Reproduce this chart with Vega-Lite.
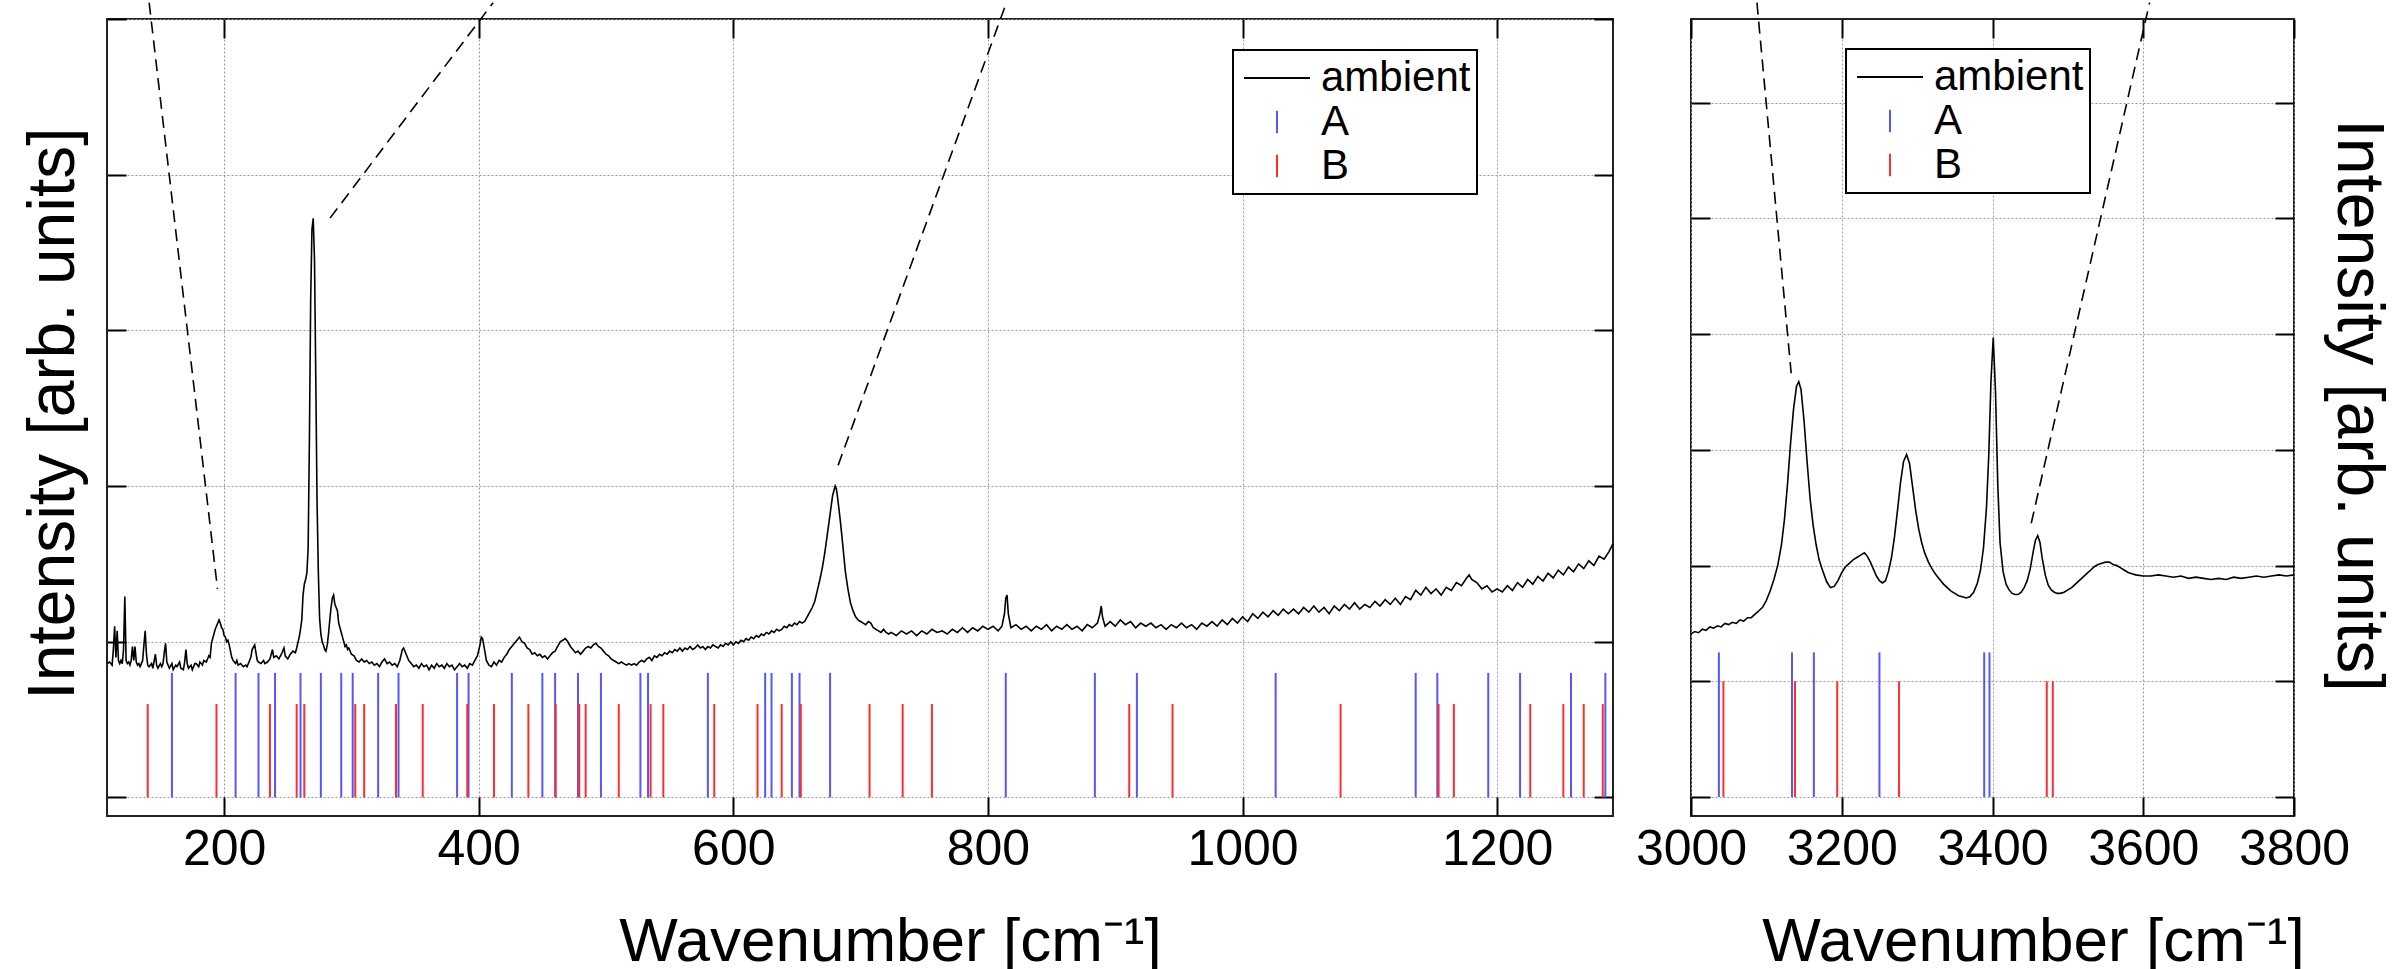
{
  "$schema": "https://vega.github.io/schema/vega-lite/v6.json",
  "padding": {"left": 18, "top": 0, "right": 5, "bottom": 0},
  "background": "white",
  "config": {
    "view": {"stroke": "#222", "strokeWidth": 2},
    "axis": {
      "domain": false,
      "tickSize": -19,
      "tickWidth": 2,
      "tickColor": "black",
      "gridColor": "#9a9a9a",
      "gridDash": [2, 2],
      "gridWidth": 1,
      "labelFont": "Liberation Sans",
      "labelFontSize": 50,
      "labelColor": "black",
      "titleFont": "Liberation Sans",
      "titleFontWeight": "normal",
      "titleColor": "black"
    },
    "legend": {
      "labelFont": "Liberation Sans",
      "labelFontSize": 42,
      "labelColor": "black",
      "strokeWidth": 2
    }
  },
  "datasets": {
    "specL": [
      {"w":108,"v":0.86},{"w":110,"v":0.87},{"w":112,"v":0.85},{"w":113,"v":0.95},{"w":114,"v":1.10},{"w":115,"v":0.90},{"w":116,"v":1.07},{"w":117,"v":0.88},{"w":118,"v":0.86},{"w":119,"v":0.88},{"w":120,"v":0.86},{"w":121,"v":0.95},{"w":122,"v":1.29},{"w":123,"v":0.88},{"w":124,"v":0.86},{"w":125,"v":0.87},{"w":126,"v":0.85},{"w":127,"v":0.88},{"w":128,"v":0.97},{"w":129,"v":0.88},{"w":130,"v":0.97},{"w":131,"v":0.87},{"w":132,"v":0.85},{"w":133,"v":0.86},{"w":134,"v":0.84},{"w":135,"v":0.86},{"w":136,"v":0.88},{"w":137,"v":0.98},{"w":138,"v":1.07},{"w":139,"v":0.92},{"w":140,"v":0.85},{"w":141,"v":0.84},{"w":143,"v":0.86},{"w":144,"v":0.83},{"w":146,"v":0.92},{"w":147,"v":0.85},{"w":148,"v":0.83},{"w":150,"v":0.86},{"w":151,"v":0.84},{"w":152,"v":0.86},{"w":153,"v":0.93},{"w":154,"v":0.99},{"w":155,"v":0.87},{"w":156,"v":0.85},{"w":157,"v":0.83},{"w":159,"v":0.86},{"w":160,"v":0.82},{"w":162,"v":0.85},{"w":163,"v":0.84},{"w":165,"v":0.87},{"w":166,"v":0.83},{"w":168,"v":0.82},{"w":169,"v":0.87},{"w":170,"v":0.95},{"w":171,"v":0.86},{"w":172,"v":0.83},{"w":174,"v":0.85},{"w":175,"v":0.82},{"w":177,"v":0.86},{"w":178,"v":0.86},{"w":180,"v":0.84},{"w":181,"v":0.87},{"w":183,"v":0.85},{"w":184,"v":0.88},{"w":186,"v":0.87},{"w":188,"v":0.91},{"w":189,"v":0.90},{"w":190,"v":0.99},{"w":191,"v":1.02},{"w":193,"v":1.08},{"w":194,"v":1.10},{"w":196,"v":1.14},{"w":197,"v":1.12},{"w":198,"v":1.09},{"w":199,"v":1.08},{"w":200,"v":1.04},{"w":201,"v":1.03},{"w":202,"v":1.00},{"w":203,"v":1.01},{"w":204,"v":0.98},{"w":205,"v":0.94},{"w":206,"v":0.90},{"w":207,"v":0.88},{"w":209,"v":0.86},{"w":210,"v":0.88},{"w":211,"v":0.85},{"w":213,"v":0.86},{"w":215,"v":0.84},{"w":217,"v":0.85},{"w":218,"v":0.84},{"w":220,"v":0.88},{"w":221,"v":0.90},{"w":222,"v":0.95},{"w":224,"v":0.98},{"w":225,"v":0.93},{"w":226,"v":0.88},{"w":227,"v":0.87},{"w":229,"v":0.86},{"w":231,"v":0.88},{"w":232,"v":0.86},{"w":234,"v":0.87},{"w":236,"v":0.89},{"w":238,"v":0.95},{"w":239,"v":0.90},{"w":241,"v":0.91},{"w":243,"v":0.89},{"w":245,"v":0.92},{"w":247,"v":0.96},{"w":248,"v":0.91},{"w":250,"v":0.89},{"w":252,"v":0.92},{"w":254,"v":0.94},{"w":256,"v":0.93},{"w":257,"v":0.96},{"w":259,"v":1.03},{"w":260,"v":1.08},{"w":261,"v":1.14},{"w":262,"v":1.30},{"w":263,"v":1.37},{"w":264,"v":1.40},{"w":265,"v":1.44},{"w":266,"v":1.60},{"w":267,"v":2.30},{"w":268,"v":3.20},{"w":269,"v":3.65},{"w":270,"v":3.72},{"w":271,"v":3.45},{"w":272,"v":2.70},{"w":273,"v":1.90},{"w":274,"v":1.45},{"w":275,"v":1.15},{"w":276,"v":1.05},{"w":277,"v":1.00},{"w":278,"v":0.98},{"w":279,"v":0.95},{"w":280,"v":0.94},{"w":281,"v":0.98},{"w":282,"v":1.05},{"w":283,"v":1.14},{"w":284,"v":1.22},{"w":285,"v":1.28},{"w":286,"v":1.30},{"w":287,"v":1.24},{"w":288,"v":1.22},{"w":289,"v":1.20},{"w":290,"v":1.12},{"w":291,"v":1.09},{"w":292,"v":1.06},{"w":293,"v":1.03},{"w":294,"v":1.00},{"w":295,"v":0.97},{"w":296,"v":0.98},{"w":297,"v":0.95},{"w":298,"v":0.96},{"w":300,"v":0.92},{"w":302,"v":0.91},{"w":304,"v":0.88},{"w":306,"v":0.87},{"w":308,"v":0.89},{"w":310,"v":0.87},{"w":312,"v":0.88},{"w":314,"v":0.86},{"w":316,"v":0.87},{"w":318,"v":0.85},{"w":320,"v":0.86},{"w":322,"v":0.84},{"w":324,"v":0.87},{"w":326,"v":0.89},{"w":328,"v":0.86},{"w":330,"v":0.87},{"w":332,"v":0.85},{"w":334,"v":0.86},{"w":336,"v":0.84},{"w":338,"v":0.88},{"w":340,"v":0.95},{"w":341,"v":0.96},{"w":343,"v":0.92},{"w":345,"v":0.88},{"w":347,"v":0.86},{"w":349,"v":0.84},{"w":351,"v":0.85},{"w":353,"v":0.83},{"w":355,"v":0.86},{"w":357,"v":0.84},{"w":359,"v":0.85},{"w":361,"v":0.82},{"w":363,"v":0.85},{"w":365,"v":0.83},{"w":367,"v":0.86},{"w":369,"v":0.84},{"w":371,"v":0.85},{"w":373,"v":0.83},{"w":375,"v":0.86},{"w":377,"v":0.84},{"w":379,"v":0.85},{"w":381,"v":0.82},{"w":383,"v":0.84},{"w":385,"v":0.86},{"w":387,"v":0.84},{"w":389,"v":0.85},{"w":391,"v":0.83},{"w":393,"v":0.86},{"w":395,"v":0.85},{"w":397,"v":0.88},{"w":399,"v":0.91},{"w":401,"v":0.98},{"w":402,"v":1.03},{"w":403,"v":1.02},{"w":405,"v":0.93},{"w":406,"v":0.88},{"w":408,"v":0.85},{"w":410,"v":0.84},{"w":412,"v":0.87},{"w":414,"v":0.85},{"w":416,"v":0.88},{"w":418,"v":0.87},{"w":420,"v":0.90},{"w":422,"v":0.92},{"w":424,"v":0.95},{"w":426,"v":0.97},{"w":428,"v":0.99},{"w":430,"v":1.01},{"w":432,"v":1.03},{"w":434,"v":1.00},{"w":436,"v":0.99},{"w":438,"v":0.96},{"w":440,"v":0.95},{"w":442,"v":0.92},{"w":444,"v":0.93},{"w":446,"v":0.91},{"w":448,"v":0.92},{"w":450,"v":0.90},{"w":452,"v":0.91},{"w":454,"v":0.89},{"w":456,"v":0.91},{"w":458,"v":0.93},{"w":460,"v":0.94},{"w":462,"v":0.97},{"w":464,"v":1.00},{"w":466,"v":1.01},{"w":468,"v":1.02},{"w":470,"v":1.00},{"w":472,"v":0.97},{"w":474,"v":0.95},{"w":476,"v":0.93},{"w":478,"v":0.94},{"w":480,"v":0.92},{"w":482,"v":0.94},{"w":484,"v":0.96},{"w":486,"v":0.97},{"w":488,"v":0.96},{"w":490,"v":0.98},{"w":492,"v":0.99},{"w":494,"v":0.97},{"w":496,"v":0.96},{"w":498,"v":0.94},{"w":500,"v":0.92},{"w":502,"v":0.91},{"w":504,"v":0.89},{"w":506,"v":0.88},{"w":508,"v":0.87},{"w":510,"v":0.86},{"w":512,"v":0.87},{"w":514,"v":0.86},{"w":516,"v":0.85},{"w":518,"v":0.86},{"w":520,"v":0.85},{"w":522,"v":0.86},{"w":524,"v":0.85},{"w":526,"v":0.87},{"w":528,"v":0.88},{"w":530,"v":0.87},{"w":532,"v":0.89},{"w":534,"v":0.90},{"w":536,"v":0.88},{"w":538,"v":0.91},{"w":540,"v":0.90},{"w":542,"v":0.92},{"w":544,"v":0.91},{"w":546,"v":0.93},{"w":548,"v":0.92},{"w":550,"v":0.94},{"w":552,"v":0.93},{"w":554,"v":0.95},{"w":556,"v":0.94},{"w":558,"v":0.96},{"w":560,"v":0.94},{"w":562,"v":0.96},{"w":564,"v":0.95},{"w":566,"v":0.97},{"w":568,"v":0.95},{"w":570,"v":0.96},{"w":572,"v":0.98},{"w":574,"v":0.96},{"w":576,"v":0.97},{"w":578,"v":0.95},{"w":580,"v":0.97},{"w":582,"v":0.96},{"w":584,"v":0.98},{"w":586,"v":0.97},{"w":588,"v":0.96},{"w":590,"v":0.98},{"w":592,"v":0.97},{"w":594,"v":0.99},{"w":596,"v":0.98},{"w":598,"v":1.00},{"w":600,"v":0.98},{"w":602,"v":1.00},{"w":604,"v":0.99},{"w":606,"v":1.01},{"w":608,"v":1.00},{"w":610,"v":1.02},{"w":612,"v":1.01},{"w":614,"v":1.03},{"w":616,"v":1.02},{"w":618,"v":1.04},{"w":620,"v":1.03},{"w":622,"v":1.05},{"w":624,"v":1.04},{"w":626,"v":1.06},{"w":628,"v":1.05},{"w":630,"v":1.07},{"w":632,"v":1.06},{"w":634,"v":1.08},{"w":636,"v":1.07},{"w":638,"v":1.08},{"w":640,"v":1.10},{"w":642,"v":1.09},{"w":644,"v":1.11},{"w":646,"v":1.10},{"w":648,"v":1.12},{"w":650,"v":1.11},{"w":652,"v":1.13},{"w":654,"v":1.12},{"w":656,"v":1.13},{"w":658,"v":1.16},{"w":660,"v":1.19},{"w":662,"v":1.22},{"w":664,"v":1.26},{"w":666,"v":1.33},{"w":668,"v":1.40},{"w":670,"v":1.48},{"w":672,"v":1.58},{"w":674,"v":1.70},{"w":676,"v":1.82},{"w":678,"v":1.94},{"w":680,"v":2.00},{"w":681,"v":1.98},{"w":682,"v":1.92},{"w":684,"v":1.78},{"w":686,"v":1.62},{"w":688,"v":1.45},{"w":690,"v":1.34},{"w":692,"v":1.25},{"w":694,"v":1.20},{"w":696,"v":1.16},{"w":698,"v":1.14},{"w":700,"v":1.13},{"w":702,"v":1.12},{"w":704,"v":1.11},{"w":706,"v":1.13},{"w":708,"v":1.12},{"w":710,"v":1.09},{"w":712,"v":1.08},{"w":714,"v":1.07},{"w":716,"v":1.06},{"w":718,"v":1.08},{"w":720,"v":1.06},{"w":722,"v":1.05},{"w":724,"v":1.06},{"w":728,"v":1.04},{"w":732,"v":1.07},{"w":736,"v":1.05},{"w":740,"v":1.07},{"w":744,"v":1.04},{"w":748,"v":1.07},{"w":752,"v":1.05},{"w":756,"v":1.08},{"w":760,"v":1.06},{"w":764,"v":1.07},{"w":768,"v":1.05},{"w":772,"v":1.08},{"w":776,"v":1.06},{"w":780,"v":1.09},{"w":784,"v":1.06},{"w":788,"v":1.09},{"w":792,"v":1.07},{"w":796,"v":1.10},{"w":800,"v":1.08},{"w":804,"v":1.10},{"w":808,"v":1.07},{"w":811,"v":1.10},{"w":813,"v":1.18},{"w":814,"v":1.28},{"w":815,"v":1.30},{"w":816,"v":1.18},{"w":818,"v":1.09},{"w":822,"v":1.11},{"w":826,"v":1.08},{"w":830,"v":1.10},{"w":834,"v":1.07},{"w":838,"v":1.10},{"w":842,"v":1.08},{"w":846,"v":1.11},{"w":850,"v":1.07},{"w":854,"v":1.10},{"w":858,"v":1.08},{"w":862,"v":1.11},{"w":866,"v":1.08},{"w":870,"v":1.10},{"w":874,"v":1.07},{"w":878,"v":1.11},{"w":882,"v":1.09},{"w":886,"v":1.12},{"w":888,"v":1.18},{"w":889,"v":1.23},{"w":890,"v":1.16},{"w":892,"v":1.10},{"w":896,"v":1.13},{"w":900,"v":1.10},{"w":904,"v":1.14},{"w":908,"v":1.11},{"w":912,"v":1.13},{"w":916,"v":1.09},{"w":920,"v":1.12},{"w":924,"v":1.10},{"w":928,"v":1.12},{"w":932,"v":1.09},{"w":936,"v":1.11},{"w":940,"v":1.08},{"w":944,"v":1.11},{"w":948,"v":1.09},{"w":952,"v":1.12},{"w":956,"v":1.09},{"w":960,"v":1.11},{"w":964,"v":1.08},{"w":968,"v":1.12},{"w":972,"v":1.10},{"w":976,"v":1.13},{"w":980,"v":1.10},{"w":984,"v":1.14},{"w":988,"v":1.11},{"w":992,"v":1.15},{"w":996,"v":1.12},{"w":1000,"v":1.16},{"w":1004,"v":1.13},{"w":1008,"v":1.18},{"w":1012,"v":1.15},{"w":1016,"v":1.19},{"w":1020,"v":1.16},{"w":1024,"v":1.20},{"w":1028,"v":1.17},{"w":1032,"v":1.21},{"w":1036,"v":1.18},{"w":1040,"v":1.21},{"w":1044,"v":1.18},{"w":1048,"v":1.22},{"w":1052,"v":1.19},{"w":1056,"v":1.23},{"w":1060,"v":1.19},{"w":1064,"v":1.22},{"w":1068,"v":1.18},{"w":1072,"v":1.23},{"w":1076,"v":1.20},{"w":1080,"v":1.24},{"w":1084,"v":1.21},{"w":1088,"v":1.25},{"w":1092,"v":1.21},{"w":1096,"v":1.24},{"w":1100,"v":1.22},{"w":1104,"v":1.26},{"w":1108,"v":1.23},{"w":1112,"v":1.27},{"w":1116,"v":1.24},{"w":1120,"v":1.28},{"w":1124,"v":1.24},{"w":1128,"v":1.29},{"w":1132,"v":1.27},{"w":1136,"v":1.33},{"w":1140,"v":1.30},{"w":1144,"v":1.35},{"w":1148,"v":1.31},{"w":1152,"v":1.34},{"w":1156,"v":1.30},{"w":1160,"v":1.35},{"w":1164,"v":1.33},{"w":1168,"v":1.38},{"w":1172,"v":1.36},{"w":1176,"v":1.41},{"w":1178,"v":1.43},{"w":1180,"v":1.40},{"w":1184,"v":1.38},{"w":1188,"v":1.34},{"w":1192,"v":1.36},{"w":1196,"v":1.32},{"w":1200,"v":1.34},{"w":1204,"v":1.32},{"w":1208,"v":1.36},{"w":1212,"v":1.33},{"w":1216,"v":1.38},{"w":1220,"v":1.35},{"w":1224,"v":1.40},{"w":1228,"v":1.37},{"w":1232,"v":1.42},{"w":1236,"v":1.39},{"w":1240,"v":1.44},{"w":1244,"v":1.41},{"w":1248,"v":1.46},{"w":1252,"v":1.43},{"w":1256,"v":1.48},{"w":1260,"v":1.45},{"w":1264,"v":1.50},{"w":1268,"v":1.47},{"w":1272,"v":1.52},{"w":1276,"v":1.49},{"w":1280,"v":1.55},{"w":1284,"v":1.53},{"w":1288,"v":1.58},{"w":1291,"v":1.63}
    ],
    "sticksL": [
      {"w":159,"s":"A","h":0.8},{"w":209,"s":"A","h":0.8},{"w":227,"s":"A","h":0.8},{"w":240,"s":"A","h":0.8},{"w":260,"s":"A","h":0.8},{"w":276,"s":"A","h":0.8},{"w":292,"s":"A","h":0.8},{"w":301,"s":"A","h":0.8},{"w":321,"s":"A","h":0.8},{"w":337,"s":"A","h":0.8},{"w":383,"s":"A","h":0.8},{"w":392,"s":"A","h":0.8},{"w":426,"s":"A","h":0.8},{"w":450,"s":"A","h":0.8},{"w":460,"s":"A","h":0.8},{"w":478,"s":"A","h":0.8},{"w":496,"s":"A","h":0.8},{"w":527,"s":"A","h":0.8},{"w":533,"s":"A","h":0.8},{"w":580,"s":"A","h":0.8},{"w":625,"s":"A","h":0.8},{"w":630,"s":"A","h":0.8},{"w":646,"s":"A","h":0.8},{"w":652,"s":"A","h":0.8},{"w":676,"s":"A","h":0.8},{"w":814,"s":"A","h":0.8},{"w":884,"s":"A","h":0.8},{"w":917,"s":"A","h":0.8},{"w":1026,"s":"A","h":0.8},{"w":1136,"s":"A","h":0.8},{"w":1153,"s":"A","h":0.8},{"w":1193,"s":"A","h":0.8},{"w":1218,"s":"A","h":0.8},{"w":1258,"s":"A","h":0.8},{"w":1285,"s":"A","h":0.8},
      {"w":140,"s":"B","h":0.6},{"w":194,"s":"B","h":0.6},{"w":236,"s":"B","h":0.6},{"w":257,"s":"B","h":0.6},{"w":263,"s":"B","h":0.6},{"w":303,"s":"B","h":0.6},{"w":310,"s":"B","h":0.6},{"w":335,"s":"B","h":0.6},{"w":356,"s":"B","h":0.6},{"w":391,"s":"B","h":0.6},{"w":412,"s":"B","h":0.6},{"w":439,"s":"B","h":0.6},{"w":460.5,"s":"B","h":0.6},{"w":479,"s":"B","h":0.6},{"w":484,"s":"B","h":0.6},{"w":510,"s":"B","h":0.6},{"w":535,"s":"B","h":0.6},{"w":545,"s":"B","h":0.6},{"w":585,"s":"B","h":0.6},{"w":619,"s":"B","h":0.6},{"w":638,"s":"B","h":0.6},{"w":653,"s":"B","h":0.6},{"w":707,"s":"B","h":0.6},{"w":733,"s":"B","h":0.6},{"w":756,"s":"B","h":0.6},{"w":911,"s":"B","h":0.6},{"w":945,"s":"B","h":0.6},{"w":1077,"s":"B","h":0.6},{"w":1154,"s":"B","h":0.6},{"w":1166,"s":"B","h":0.6},{"w":1226,"s":"B","h":0.6},{"w":1252,"s":"B","h":0.6},{"w":1268,"s":"B","h":0.6},{"w":1283,"s":"B","h":0.6}
    ],
    "zoomL": [
      {"w1":141.1,"v1":5.105,"w2":194.8,"v2":1.34},
      {"w1":283.2,"v1":3.721,"w2":411.3,"v2":5.105},
      {"w1":682.3,"v1":2.133,"w2":814.5,"v2":5.105}
    ],
    "specR": [
      {"w":3000,"v":1.41},{"w":3005,"v":1.43},{"w":3010,"v":1.42},{"w":3015,"v":1.45},{"w":3020,"v":1.44},{"w":3025,"v":1.47},{"w":3030,"v":1.46},{"w":3035,"v":1.48},{"w":3040,"v":1.47},{"w":3045,"v":1.50},{"w":3050,"v":1.49},{"w":3055,"v":1.51},{"w":3060,"v":1.50},{"w":3065,"v":1.53},{"w":3070,"v":1.52},{"w":3075,"v":1.55},{"w":3080,"v":1.55},{"w":3085,"v":1.58},{"w":3090,"v":1.61},{"w":3095,"v":1.64},{"w":3100,"v":1.70},{"w":3105,"v":1.78},{"w":3110,"v":1.88},{"w":3115,"v":2.00},{"w":3120,"v":2.18},{"w":3124,"v":2.40},{"w":3128,"v":2.70},{"w":3132,"v":3.05},{"w":3136,"v":3.35},{"w":3140,"v":3.55},{"w":3143,"v":3.59},{"w":3146,"v":3.52},{"w":3150,"v":3.25},{"w":3154,"v":2.90},{"w":3158,"v":2.58},{"w":3162,"v":2.35},{"w":3166,"v":2.18},{"w":3170,"v":2.05},{"w":3175,"v":1.95},{"w":3180,"v":1.86},{"w":3185,"v":1.81},{"w":3190,"v":1.82},{"w":3195,"v":1.87},{"w":3200,"v":1.94},{"w":3205,"v":1.99},{"w":3210,"v":2.02},{"w":3215,"v":2.05},{"w":3220,"v":2.07},{"w":3225,"v":2.09},{"w":3230,"v":2.11},{"w":3234,"v":2.08},{"w":3238,"v":2.03},{"w":3242,"v":1.97},{"w":3246,"v":1.91},{"w":3250,"v":1.87},{"w":3254,"v":1.85},{"w":3258,"v":1.87},{"w":3262,"v":1.95},{"w":3266,"v":2.07},{"w":3270,"v":2.25},{"w":3274,"v":2.48},{"w":3278,"v":2.72},{"w":3282,"v":2.90},{"w":3286,"v":2.96},{"w":3290,"v":2.88},{"w":3294,"v":2.68},{"w":3298,"v":2.48},{"w":3302,"v":2.32},{"w":3306,"v":2.20},{"w":3310,"v":2.11},{"w":3315,"v":2.03},{"w":3320,"v":1.97},{"w":3325,"v":1.92},{"w":3330,"v":1.88},{"w":3335,"v":1.84},{"w":3340,"v":1.81},{"w":3345,"v":1.78},{"w":3350,"v":1.76},{"w":3355,"v":1.74},{"w":3360,"v":1.73},{"w":3365,"v":1.72},{"w":3370,"v":1.73},{"w":3375,"v":1.77},{"w":3380,"v":1.85},{"w":3384,"v":1.96},{"w":3388,"v":2.15},{"w":3392,"v":2.50},{"w":3395,"v":2.95},{"w":3398,"v":3.60},{"w":3401,"v":3.97},{"w":3404,"v":3.50},{"w":3407,"v":2.70},{"w":3410,"v":2.20},{"w":3414,"v":1.95},{"w":3418,"v":1.84},{"w":3422,"v":1.79},{"w":3426,"v":1.76},{"w":3430,"v":1.75},{"w":3434,"v":1.75},{"w":3438,"v":1.77},{"w":3442,"v":1.81},{"w":3446,"v":1.87},{"w":3450,"v":1.97},{"w":3454,"v":2.12},{"w":3457,"v":2.22},{"w":3460,"v":2.26},{"w":3463,"v":2.20},{"w":3466,"v":2.06},{"w":3470,"v":1.92},{"w":3474,"v":1.83},{"w":3478,"v":1.79},{"w":3482,"v":1.77},{"w":3486,"v":1.76},{"w":3490,"v":1.76},{"w":3495,"v":1.77},{"w":3500,"v":1.79},{"w":3505,"v":1.81},{"w":3510,"v":1.84},{"w":3515,"v":1.87},{"w":3520,"v":1.90},{"w":3525,"v":1.93},{"w":3530,"v":1.96},{"w":3535,"v":1.99},{"w":3540,"v":2.01},{"w":3545,"v":2.02},{"w":3550,"v":2.03},{"w":3555,"v":2.03},{"w":3560,"v":2.01},{"w":3565,"v":2.00},{"w":3570,"v":1.98},{"w":3575,"v":1.96},{"w":3580,"v":1.94},{"w":3585,"v":1.93},{"w":3590,"v":1.92},{"w":3600,"v":1.91},{"w":3610,"v":1.91},{"w":3620,"v":1.92},{"w":3630,"v":1.91},{"w":3640,"v":1.90},{"w":3650,"v":1.91},{"w":3660,"v":1.89},{"w":3670,"v":1.90},{"w":3680,"v":1.89},{"w":3690,"v":1.88},{"w":3700,"v":1.89},{"w":3710,"v":1.88},{"w":3720,"v":1.90},{"w":3730,"v":1.89},{"w":3740,"v":1.90},{"w":3750,"v":1.91},{"w":3760,"v":1.90},{"w":3770,"v":1.91},{"w":3780,"v":1.92},{"w":3790,"v":1.91},{"w":3800,"v":1.92}
    ],
    "sticksR": [
      {"w":3037,"s":"A","h":1.25},{"w":3134,"s":"A","h":1.25},{"w":3163,"s":"A","h":1.25},{"w":3250,"s":"A","h":1.25},{"w":3389,"s":"A","h":1.25},{"w":3396,"s":"A","h":1.25},
      {"w":3043,"s":"B","h":1.0},{"w":3138,"s":"B","h":1.0},{"w":3194,"s":"B","h":1.0},{"w":3276,"s":"B","h":1.0},{"w":3472,"s":"B","h":1.0},{"w":3480,"s":"B","h":1.0}
    ],
    "zoomR": [
      {"w1":3087.5,"v1":6.865,"w2":3132.9,"v2":3.662},
      {"w1":3451.4,"v1":2.366,"w2":3608.4,"v2":6.865}
    ]
  },
  "hconcat": [
    {
      "width": 1506,
      "height": 797,
      "layer": [
        {
          "data": {"name": "specL"},
          "mark": {"type": "line", "strokeWidth": 1.6},
          "encoding": {
            "x": {"field": "w", "type": "quantitative", "scale": {"domain": [108, 1291], "nice": false, "zero": false},
              "axis": {"orient": "bottom", "values": [200, 400, 600, 800, 1000, 1200], "format": "d", "title": "Wavenumber [cm⁻¹]", "grid": true, "labelPadding": 27, "labelFlush": false, "labelOverlap": false, "titleFontSize": 62, "titleX": 783, "titleY": 144, "titleBaseline": "alphabetic", "titleAlign": "center"}},
            "y": {"field": "v", "type": "quantitative", "scale": {"domain": [-0.119, 5], "nice": false, "zero": false},
              "axis": {"orient": "left", "values": [0, 1, 2, 3, 4, 5], "labels": false, "grid": true, "title": "Intensity [arb. units]", "titleFontSize": 66, "titleAngle": 270, "titleX": -34, "titleY": 394, "titleBaseline": "alphabetic", "titleAlign": "center"}},
            "color": {"datum": "ambient", "type": "nominal",
              "scale": {"domain": ["ambient", "A", "B"], "range": ["black", "#5656ff", "#ff2e2e"]},
              "legend": {"title": null, "orient": "none", "legendX": 1126, "legendY": 31, "padding": 6, "strokeColor": "black", "fillColor": "white", "symbolSize": 4356, "symbolStrokeWidth": 2, "clipHeight": 44, "rowPadding": 0, "labelOffset": 10, "symbolOffset": 4,
                "symbolType": {"expr": "datum.value === 'ambient' ? 'M-1,0L1,0' : 'M0,-0.34L0,0.34'"}}}
          }
        },
        {
          "data": {"name": "sticksL"},
          "mark": {"type": "rule", "strokeWidth": 2},
          "encoding": {
            "x": {"field": "w", "type": "quantitative", "axis": {"orient": "top", "values": [200, 400, 600, 800, 1000, 1200], "labels": false, "grid": false, "title": null}},
            "y": {"field": "h", "type": "quantitative", "axis": {"orient": "right", "values": [0, 1, 2, 3, 4, 5], "labels": false, "grid": false, "title": null}},
            "y2": {"datum": 0},
            "color": {"field": "s", "type": "nominal",
              "scale": {"domain": ["ambient", "A", "B"], "range": ["black", "#5656ff", "#ff2e2e"]},
              "legend": {"title": null, "orient": "none", "legendX": 1126, "legendY": 31, "padding": 6, "strokeColor": "black", "fillColor": "white", "symbolSize": 4356, "symbolStrokeWidth": 2, "clipHeight": 44, "rowPadding": 0, "labelOffset": 10, "symbolOffset": 4,
                "symbolType": {"expr": "datum.value === 'ambient' ? 'M-1,0L1,0' : 'M0,-0.34L0,0.34'"}}}
          }
        },
        {
          "data": {"name": "zoomL"},
          "mark": {"type": "rule", "color": "black", "strokeWidth": 1.6, "strokeDash": [12, 7]},
          "encoding": {
            "x": {"field": "w1", "type": "quantitative", "axis": null},
            "y": {"field": "v1", "type": "quantitative", "axis": null},
            "x2": {"field": "w2"},
            "y2": {"field": "v2"}
          }
        }
      ],
      "resolve": {"axis": {"x": "independent", "y": "independent"}}
    },
    {
      "width": 603,
      "height": 797,
      "layer": [
        {
          "data": {"name": "specR"},
          "mark": {"type": "line", "strokeWidth": 1.6},
          "encoding": {
            "x": {"field": "w", "type": "quantitative", "scale": {"domain": [3000, 3800], "nice": false, "zero": false},
              "axis": {"orient": "bottom", "values": [3000, 3200, 3400, 3600, 3800], "format": "d", "title": "Wavenumber [cm⁻¹]", "grid": true, "labelPadding": 27, "labelFlush": false, "labelOverlap": false, "titleFontSize": 62, "titleX": 342, "titleY": 144, "titleBaseline": "alphabetic", "titleAlign": "center"}},
            "y": {"field": "v", "type": "quantitative", "scale": {"domain": [-0.164, 6.724], "nice": false, "zero": false},
              "axis": {"orient": "left", "values": [0, 1, 2, 3, 4, 5, 6], "labels": false, "grid": true, "title": null}},
            "color": {"datum": "ambient", "type": "nominal",
              "scale": {"domain": ["ambient", "A", "B"], "range": ["black", "#5656ff", "#ff2e2e"]},
              "legend": {"title": null, "orient": "none", "legendX": 155, "legendY": 30, "padding": 6, "strokeColor": "black", "fillColor": "white", "symbolSize": 4356, "symbolStrokeWidth": 2, "clipHeight": 44, "rowPadding": 0, "labelOffset": 10, "symbolOffset": 4,
                "symbolType": {"expr": "datum.value === 'ambient' ? 'M-1,0L1,0' : 'M0,-0.34L0,0.34'"}}}
          }
        },
        {
          "data": {"name": "sticksR"},
          "mark": {"type": "rule", "strokeWidth": 2},
          "encoding": {
            "x": {"field": "w", "type": "quantitative", "axis": {"orient": "top", "values": [3000, 3200, 3400, 3600, 3800], "labels": false, "grid": false, "title": null}},
            "y": {"field": "h", "type": "quantitative", "axis": {"orient": "right", "values": [0, 1, 2, 3, 4, 5, 6], "labels": false, "grid": false, "title": "Intensity [arb. units]", "titleFontSize": 66, "titleAngle": 90, "titleX": 43, "titleY": 386, "titleBaseline": "alphabetic", "titleAlign": "center"}},
            "y2": {"datum": 0},
            "color": {"field": "s", "type": "nominal",
              "scale": {"domain": ["ambient", "A", "B"], "range": ["black", "#5656ff", "#ff2e2e"]},
              "legend": {"title": null, "orient": "none", "legendX": 155, "legendY": 30, "padding": 6, "strokeColor": "black", "fillColor": "white", "symbolSize": 4356, "symbolStrokeWidth": 2, "clipHeight": 44, "rowPadding": 0, "labelOffset": 10, "symbolOffset": 4,
                "symbolType": {"expr": "datum.value === 'ambient' ? 'M-1,0L1,0' : 'M0,-0.34L0,0.34'"}}}
          }
        },
        {
          "data": {"name": "zoomR"},
          "mark": {"type": "rule", "color": "black", "strokeWidth": 1.6, "strokeDash": [12, 7]},
          "encoding": {
            "x": {"field": "w1", "type": "quantitative", "axis": null},
            "y": {"field": "v1", "type": "quantitative", "axis": null},
            "x2": {"field": "w2"},
            "y2": {"field": "v2"}
          }
        }
      ],
      "resolve": {"axis": {"x": "independent", "y": "independent"}}
    }
  ],
  "spacing": 16,
  "resolve": {"scale": {"color": "independent"}, "legend": {"color": "independent"}}
}
